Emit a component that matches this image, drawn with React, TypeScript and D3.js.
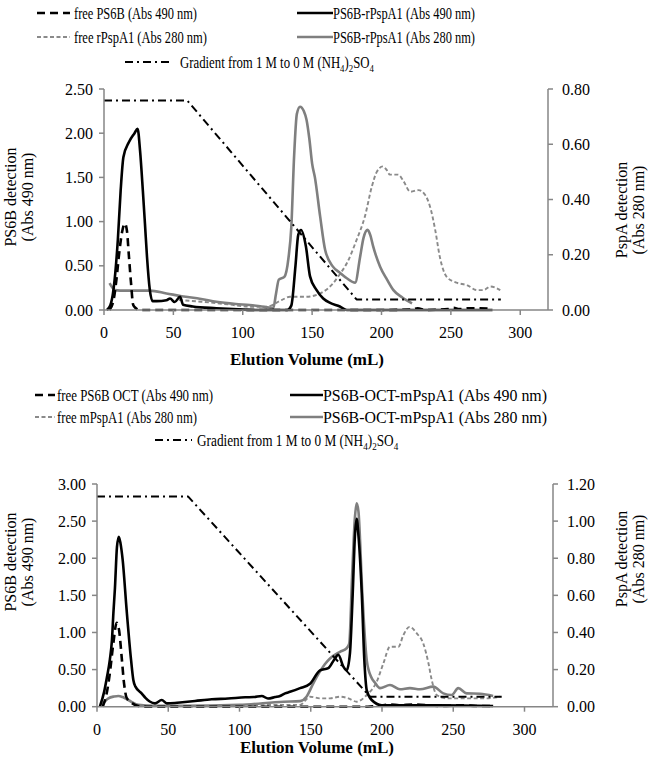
import React from "react";
import * as d3 from "d3";

// ---------- DATA (elution volume mL, absorbance) ----------
const xTicks = [0, 50, 100, 150, 200, 250, 300];

// Top chart
const topLeftTicks = [0, 0.5, 1.0, 1.5, 2.0, 2.5];
const topRightTicks = [0, 0.2, 0.4, 0.6, 0.8];
const topFreePS6B: [number, number][] = [[4,0],[7,0.12],[9,0.35],[11,0.65],[13,0.88],[15,0.98],[16.5,0.9],[18,0.6],[19.5,0.3],[21,0.06],[23,0.02],[26,0],[60,0],[120,0],[200,0],[222,0.005],[226,0.02],[232,0],[248,0.01],[252,0.025],[256,0.01],[262,0.02],[270,0.02],[277,0.015]];
const topPS6BrPspA1: [number, number][] = [[2,0],[4.5,0.05],[7,0.25],[10,0.8],[12,1.35],[14,1.73],[18,1.9],[22,2.0],[24.2,2.05],[26,1.8],[28,1.35],[29.5,0.98],[31,0.6],[33,0.23],[35,0.1],[38,0.1],[45,0.11],[47.6,0.13],[51,0.09],[54.8,0.15],[57,0.06],[64,0.04],[81,0.02],[93,0.01],[110,0],[132,0],[135,0.05],[138,0.5],[140,0.85],[142,0.905],[145.5,0.72],[148.5,0.38],[153,0.23],[158,0.13],[163,0.08],[170,0.04],[175,0],[280,0]];
const topFreeRPspA1: [number, number][] = [[54,0.036],[70,0.03],[90,0.02],[105,0.012],[117,0.012],[128,0.036],[134,0.048],[146,0.048],[158,0.066],[165,0.096],[170,0.13],[175,0.169],[182,0.253],[188,0.338],[193,0.446],[196.6,0.5],[201,0.52],[204,0.505],[206,0.49],[212,0.49],[216,0.465],[220.7,0.428],[226.7,0.434],[231.5,0.416],[235,0.374],[238.7,0.29],[242,0.193],[247,0.12],[254,0.099],[261.6,0.09],[268.8,0.072],[273.5,0.072],[278.4,0.085],[285.6,0.072]];
const topPS6BrPpsA1: [number, number][] = [[4,0.097],[8,0.072],[15,0.07],[33,0.07],[45,0.06],[56,0.05],[70,0.04],[81,0.03],[95,0.022],[105,0.018],[115,0.012],[122,0.007],[124,0.06],[126,0.11],[130,0.12],[133,0.19],[135,0.3],[137,0.555],[139,0.71],[141.3,0.736],[144,0.72],[146,0.688],[148,0.62],[150,0.53],[152,0.48],[155.8,0.338],[159.4,0.217],[165,0.157],[170,0.135],[175,0.115],[181,0.099],[184.6,0.193],[187,0.26],[190,0.29],[192,0.27],[194,0.23],[199,0.157],[204,0.11],[208.6,0.072],[215,0.045],[222,0.024]];
const topGradient: [number, number][] = [[0,2.37],[60,2.37],[182,0.12],[286,0.12]];

// Bottom chart
const botLeftTicks = [0, 0.5, 1.0, 1.5, 2.0, 2.5, 3.0];
const botRightTicks = [0, 0.2, 0.4, 0.6, 0.8, 1.0, 1.2];
const botFreePS6BOCT: [number, number][] = [[4,0],[7,0.2],[9,0.45],[11.5,0.86],[13.8,1.13],[15.5,1.03],[17.3,0.67],[19,0.31],[20.8,0.12],[24.4,0.05],[29,0.01],[35,0],[100,0],[190,0],[200,0.02],[206,0.03],[212,0.02],[222,0.03],[240,0.01],[258,0.02],[266,0.01],[278,0.01]];
const botPS6BOCTmPspA1_490: [number, number][] = [[2,0],[5,0.2],[7,0.4],[9,0.63],[10.5,0.9],[11.5,1.26],[12.6,1.6],[14,2.15],[15.3,2.29],[16.5,2.2],[18,1.98],[20.8,1.3],[23.9,0.63],[25.5,0.36],[27,0.27],[31.3,0.18],[34,0.12],[37,0.07],[40.7,0.045],[45.4,0.09],[49,0.045],[54.7,0.05],[60,0.06],[68.8,0.077],[80.5,0.1],[92,0.11],[104,0.127],[110,0.13],[115.6,0.145],[120,0.11],[125,0.13],[128.4,0.145],[132,0.18],[135.4,0.2],[142.5,0.25],[149.5,0.31],[156.5,0.49],[162.3,0.52],[166.3,0.63],[169.3,0.7],[172.9,0.54],[175.2,0.49],[177.5,0.72],[179.4,1.5],[181,2.3],[182.2,2.53],[183.5,2.3],[185.8,1.53],[187.6,0.63],[189.3,0.22],[192.8,0.09],[199.8,0.02],[240,0.02],[278,0.01]];
const botFreeMPspA1: [number, number][] = [[60,0],[100,0.005],[130,0.01],[142.5,0.01],[149.5,0.054],[156.5,0.045],[163.5,0.045],[170.5,0.054],[176.4,0.045],[182.2,0.027],[189.3,0.063],[196.3,0.135],[201,0.234],[205.6,0.323],[211.5,0.323],[215,0.386],[219.3,0.43],[224.4,0.395],[229,0.34],[232.6,0.234],[234.9,0.144],[238.4,0.063],[245.4,0.045],[259.4,0.045],[273.5,0.045],[282.8,0.054]];
const botPS6BOCTmPspA1_280: [number, number][] = [[3.3,0.01],[8,0.045],[12,0.055],[15,0.058],[18,0.052],[22,0.036],[29,0.01],[40,0.005],[60,0.005],[100,0.01],[131,0.027],[142.5,0.03],[147,0.054],[151.8,0.126],[156.5,0.19],[160,0.23],[163.5,0.26],[170.5,0.296],[175.2,0.315],[177,0.34],[179,0.7],[181,1.02],[182.2,1.096],[183.5,1.05],[186.2,0.61],[189.3,0.25],[192.4,0.16],[195,0.13],[198.6,0.1],[205.6,0.117],[212.6,0.094],[219.6,0.1],[226.7,0.094],[236,0.108],[243,0.072],[248.9,0.063],[253.5,0.1],[259.4,0.072],[268.8,0.07],[278,0.058]];
const botGradient: [number, number][] = [[0,2.83],[64,2.83],[191.6,0.135],[284,0.135]];

const topLegendLabels = ["free PS6B (Abs 490 nm)", "PS6B-rPspA1 (Abs 490 nm)", "free rPspA1 (Abs 280 nm)", "PS6B-rPpsA1 (Abs 280 nm)"];
const botLegendLabels = ["free PS6B OCT (Abs 490 nm)", "PS6B-OCT-mPspA1 (Abs 490 nm)", "free mPspA1 (Abs 280 nm)", "PS6B-OCT-mPspA1 (Abs 280 nm)"];

// ---------- STYLES ----------
const FONT = "'Liberation Serif', 'Times New Roman', Times, 'DejaVu Serif', serif";
const AXIS = "#868686";
const STY = {
  blackDash: { stroke: "#000", width: 2.6, dash: "8,5" },
  black: { stroke: "#000", width: 2.6, dash: "" },
  grayDash: { stroke: "#8a8a8a", width: 1.9, dash: "4,2.5" },
  gray: { stroke: "#7f7f7f", width: 2.6, dash: "" },
  grad: { stroke: "#000", width: 2, dash: "8,4,2,4" },
};

type Sty = { stroke: string; width: number; dash: string };

const tStyle = (size: number, weight: string = "normal"): React.CSSProperties => ({
  fontFamily: FONT, fontSize: size, fontWeight: weight as any,
});

interface PanelProps {
  x0: number; x1: number; yTop: number; yBot: number;
  leftMax: number; rightMax: number;
  leftTicks: number[]; rightTicks: number[];
  series: { data: [number, number][]; axis: "L" | "R"; sty: Sty; linear?: boolean }[];
  xTitleX: number; xTitleY: number;
  leftTitleY: number; rightTitleY: number;
}

function Panel(p: PanelProps) {
  const x = d3.scaleLinear().domain([0, 320]).range([p.x0, p.x1]);
  const yL = d3.scaleLinear().domain([0, p.leftMax]).range([p.yBot, p.yTop]);
  const yR = d3.scaleLinear().domain([0, p.rightMax]).range([p.yBot, p.yTop]);
  const mk = (ys: d3.ScaleLinear<number, number>, linear?: boolean) =>
    d3.line<[number, number]>().x(d => x(d[0])).y(d => ys(d[1])).curve(linear ? d3.curveLinear : d3.curveMonotoneX);
  return (
    <g>
      {p.series.map((s, i) => (
        <path key={i} d={mk(s.axis === "L" ? yL : yR, s.linear)(s.data) || ""} fill="none"
          stroke={s.sty.stroke} strokeWidth={s.sty.width} strokeDasharray={s.sty.dash || undefined}
          strokeLinejoin="round" />
      ))}
      <line x1={p.x0} x2={p.x0} y1={p.yTop} y2={p.yBot} stroke={AXIS} strokeWidth={1.5} />
      <line x1={p.x1} x2={p.x1} y1={p.yTop} y2={p.yBot} stroke={AXIS} strokeWidth={1.5} />
      <line x1={p.x0} x2={p.x1} y1={p.yBot} y2={p.yBot} stroke={AXIS} strokeWidth={1.5} />
      {p.leftTicks.map(t => (
        <g key={"l" + t}>
          <line x1={p.x0 - 5} x2={p.x0} y1={yL(t)} y2={yL(t)} stroke={AXIS} strokeWidth={1.5} />
          <text x={p.x0 - 11} y={yL(t) + 5.5} textAnchor="end" style={tStyle(16)}>{t.toFixed(2)}</text>
        </g>
      ))}
      {p.rightTicks.map(t => (
        <g key={"r" + t}>
          <line x1={p.x1} x2={p.x1 + 5} y1={yR(t)} y2={yR(t)} stroke={AXIS} strokeWidth={1.5} />
          <text x={p.x1 + 14} y={yR(t) + 5.5} textAnchor="start" style={tStyle(16)}>{t.toFixed(2)}</text>
        </g>
      ))}
      {xTicks.map(t => (
        <g key={"x" + t}>
          <line x1={x(t)} x2={x(t)} y1={p.yBot} y2={p.yBot + 5} stroke={AXIS} strokeWidth={1.5} />
          <text x={x(t)} y={p.yBot + 28} textAnchor="middle" style={tStyle(16)}>{t}</text>
        </g>
      ))}
      <text x={p.xTitleX} y={p.xTitleY} textAnchor="middle" style={tStyle(17, "bold")}>Elution Volume (mL)</text>
      <g transform={`translate(16,${p.leftTitleY}) rotate(-90)`}>
        <text x={0} y={0} textAnchor="middle" style={tStyle(16)}>PS6B detection</text>
        <text x={0} y={17} textAnchor="middle" style={tStyle(16)}>(Abs 490 nm)</text>
      </g>
      <g transform={`translate(627,${p.rightTitleY}) rotate(-90)`}>
        <text x={0} y={0} textAnchor="middle" style={tStyle(16)}>PspA detection</text>
        <text x={0} y={17} textAnchor="middle" style={tStyle(16)}>(Abs 280 nm)</text>
      </g>
    </g>
  );
}

function LegendLine({ x1, x2, y, sty }: { x1: number; x2: number; y: number; sty: Sty }) {
  return <line x1={x1} x2={x2} y1={y} y2={y} stroke={sty.stroke} strokeWidth={sty.width} strokeDasharray={sty.dash || undefined} />;
}

function LegText({ x, y, w, children }: { x: number; y: number; w: number; children: React.ReactNode }) {
  return (
    <text x={x} y={y + 5.5} style={tStyle(16)} textLength={w} lengthAdjust="spacingAndGlyphs">{children}</text>
  );
}

function GradLabel({ x, y, sx }: { x: number; y: number; sx: number }) {
  return (
    <g transform={`translate(${x},${y + 5.5}) scale(${sx},1)`}>
      <text x={0} y={0} style={tStyle(16)}>
        Gradient from 1 M to 0 M (NH<tspan style={{ fontSize: 11 }} dy={4}>4</tspan><tspan dy={-4}>)</tspan><tspan style={{ fontSize: 11 }} dy={4}>2</tspan><tspan dy={-4}>SO</tspan><tspan style={{ fontSize: 11 }} dy={4}>4</tspan>
      </text>
    </g>
  );
}

export default function App() {
  return (
    <svg width={650} height={766} style={{ position: "absolute", left: 0, top: 0, background: "#fff" }}>
      {/* Top legend */}
      <LegendLine x1={37} x2={70} y={13} sty={STY.blackDash} />
      <LegText x={74} y={13} w={123}>{topLegendLabels[0]}</LegText>
      <LegendLine x1={297} x2={333} y={13} sty={STY.black} />
      <LegText x={333} y={13} w={142}>{topLegendLabels[1]}</LegText>
      <LegendLine x1={37} x2={70} y={37} sty={STY.grayDash} />
      <LegText x={74} y={37} w={133}>{topLegendLabels[2]}</LegText>
      <LegendLine x1={297} x2={333} y={37} sty={STY.gray} />
      <LegText x={333} y={37} w={142}>{topLegendLabels[3]}</LegText>
      <LegendLine x1={125} x2={173} y={62} sty={STY.grad} />
      <GradLabel x={180} y={62} sx={0.8} />

      <Panel x0={104} x1={548} yTop={89} yBot={310} leftMax={2.5} rightMax={0.8}
        leftTicks={topLeftTicks} rightTicks={topRightTicks}
        series={[
          { data: topFreeRPspA1, axis: "R", sty: STY.grayDash },
          { data: topPS6BrPpsA1, axis: "R", sty: STY.gray },
          { data: topFreePS6B, axis: "L", sty: STY.blackDash },
          { data: topPS6BrPspA1, axis: "L", sty: STY.black },
          { data: topGradient, axis: "L", sty: STY.grad, linear: true },
        ]}
        xTitleX={307} xTitleY={365} leftTitleY={197} rightTitleY={210} />

      {/* Bottom legend */}
      <LegendLine x1={35} x2={55} y={395} sty={STY.blackDash} />
      <LegText x={57} y={395} w={156}>{botLegendLabels[0]}</LegText>
      <LegendLine x1={290} x2={323} y={395} sty={STY.black} />
      <LegText x={323} y={395} w={224}>{botLegendLabels[1]}</LegText>
      <LegendLine x1={35} x2={55} y={417} sty={STY.grayDash} />
      <LegText x={57} y={417} w={140}>{botLegendLabels[2]}</LegText>
      <LegendLine x1={290} x2={323} y={417} sty={STY.gray} />
      <LegText x={323} y={417} w={224}>{botLegendLabels[3]}</LegText>
      <LegendLine x1={155} x2={192} y={440} sty={STY.grad} />
      <GradLabel x={197} y={440} sx={0.83} />

      <Panel x0={97} x1={553} yTop={484} yBot={706.7} leftMax={3} rightMax={1.2}
        leftTicks={botLeftTicks} rightTicks={botRightTicks}
        series={[
          { data: botFreeMPspA1, axis: "R", sty: STY.grayDash },
          { data: botPS6BOCTmPspA1_280, axis: "R", sty: STY.gray },
          { data: botFreePS6BOCT, axis: "L", sty: STY.blackDash },
          { data: botPS6BOCTmPspA1_490, axis: "L", sty: STY.black },
          { data: botGradient, axis: "L", sty: STY.grad, linear: true },
        ]}
        xTitleX={317} xTitleY={753} leftTitleY={562} rightTitleY={559} />
    </svg>
  );
}
